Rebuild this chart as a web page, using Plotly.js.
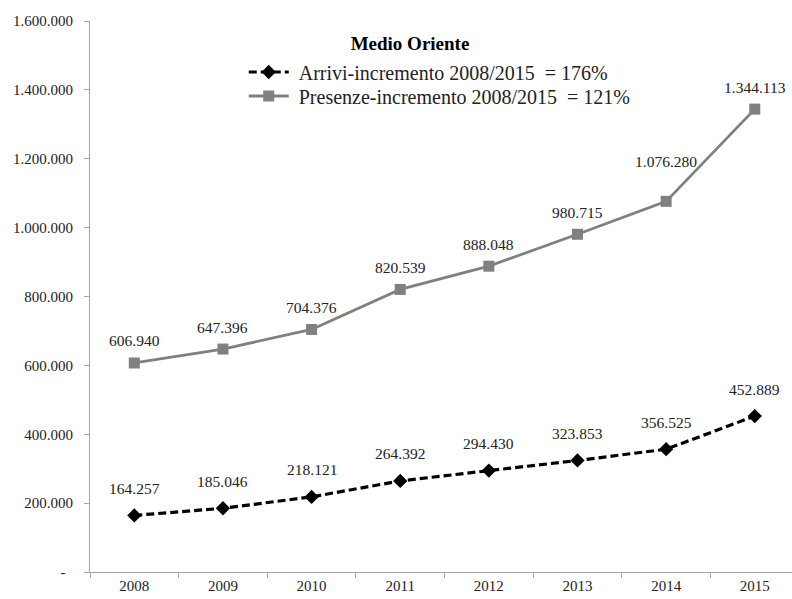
<!DOCTYPE html>
<html><head><meta charset="utf-8">
<script src="https://cdn.plot.ly/plotly-3.0.1.min.js"></script>
<style>html,body{margin:0;padding:0;background:#fff}</style>
</head><body>
<div id="chart" style="width:792px;height:599px"></div>
<script>
var years = ["2008","2009","2010","2011","2012","2013","2014","2015"];
var arrivi = [164257,185046,218121,264392,294430,323853,356525,452889];
var presenze = [606940,647396,704376,820539,888048,980715,1076280,1344113];
var arriviLabels = ["164.257","185.046","218.121","264.392","294.430","323.853","356.525","452.889"];
var presenzeLabels = ["606.940","647.396","704.376","820.539","888.048","980.715","1.076.280","1.344.113"];
var presenzeShift = [22,22,22,22,22,22,40,22];
var arriviShift = [27,27,27,27,27,27,27,27];
var yTickVals = [0,200000,400000,600000,800000,1000000,1200000,1400000,1600000];
var yTickText = ["-\u00a0\u00a0","200.000","400.000","600.000","800.000","1.000.000","1.200.000","1.400.000","1.600.000"];
var arriviName = "\u00a0Arrivi-incremento 2008/2015  = 176%";
var presenzeName = "\u00a0Presenze-incremento 2008/2015  = 121%";
var titleText = "<b>Medio Oriente</b>";

var font = "Liberation Serif, Times New Roman, serif";

var traces = [
  {x: years, y: arrivi, name: arriviName, type: "scatter", mode: "lines+markers", legend: "legend",
   line: {color: "#000000", width: 3.2, dash: "8px,4px"},
   marker: {symbol: "diamond", size: 11, color: "#000000"}},
  {x: years, y: presenze, name: presenzeName, type: "scatter", mode: "lines+markers", legend: "legend2",
   line: {color: "#808080", width: 2.8},
   marker: {symbol: "square", size: 11, color: "#808080"}}
];

var annotations = [];
years.forEach(function(yr, i){
  annotations.push({xref: "x", yref: "y", x: i, y: arrivi[i], text: arriviLabels[i], showarrow: false,
    yshift: arriviShift[i], yanchor: "middle", xanchor: "center", font: {family: font, size: 15.5, color: "#222"}});
  annotations.push({xref: "x", yref: "y", x: i, y: presenze[i], text: presenzeLabels[i], showarrow: false,
    yshift: presenzeShift[i], yanchor: "middle", xanchor: "center", font: {family: font, size: 15.5, color: "#222"}});
});

var legendBase = {xanchor: "left", yanchor: "middle", bgcolor: "rgba(0,0,0,0)",
  font: {family: font, size: 20, color: "#222"}, itemwidth: 40};

var layout = {
  width: 792, height: 599,
  margin: {l: 90, r: 0, t: 21, b: 27},
  paper_bgcolor: "#ffffff", plot_bgcolor: "#ffffff",
  font: {family: font, size: 15, color: "#222"},
  title: {text: titleText, x: 410/792, xanchor: "center", y: 1-43/599, yanchor: "middle",
          font: {family: font, size: 19, color: "#000"}},
  showlegend: true,
  legend: Object.assign({}, legendBase, {x: 0.219, y: 1 - (72-21)/551}),
  legend2: Object.assign({}, legendBase, {x: 0.219, y: 1 - (96-21)/551}),
  xaxis: {type: "category", range: [-0.5, 7.42], showgrid: false, zeroline: false,
          showline: true, linecolor: "#a6a6a6", linewidth: 1,
          ticks: "outside", tickson: "boundaries", ticklen: 5, tickcolor: "#a6a6a6",
          tickfont: {family: font, size: 15, color: "#222"}},
  yaxis: {range: [0, 1600000], tickvals: yTickVals, ticktext: yTickText,
          showgrid: false, zeroline: false, showline: true, linecolor: "#a6a6a6", linewidth: 1,
          ticks: "outside", ticklen: 5, tickcolor: "#a6a6a6", ticklabelstandoff: 8,
          tickfont: {family: font, size: 15, color: "#222"}},
  annotations: annotations
};

Plotly.newPlot("chart", traces, layout, {displayModeBar: false, staticPlot: true});
</script>
</body></html>
